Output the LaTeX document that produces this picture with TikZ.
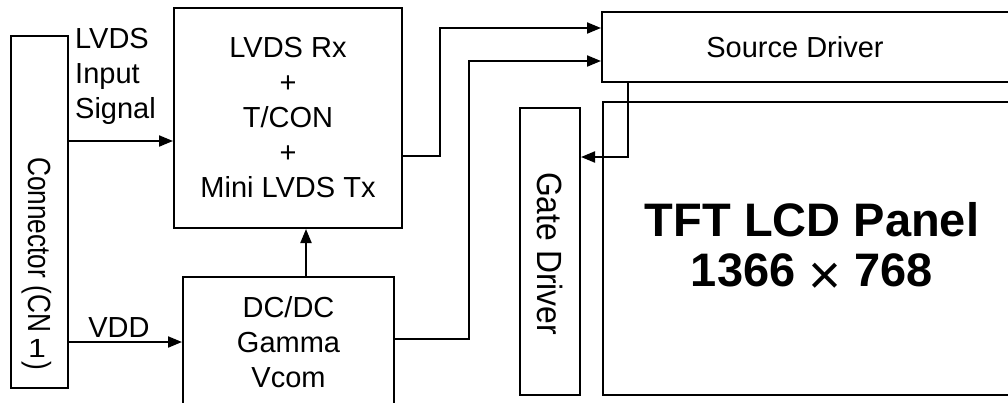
\documentclass[tikz,border=0pt]{standalone}
\usepackage{fontspec}
\setmainfont{Liberation Sans}
\usetikzlibrary{arrows.meta}
\begin{document}
\begin{tikzpicture}[x=1pt,y=-1pt,
  box/.style={draw, line width=2pt, rectangle, inner sep=0pt},
  lbl/.style={font=\fontsize{29}{35}\selectfont, inner sep=0pt, align=center},
  conn/.style={line width=2pt, -{Triangle[length=14pt,width=11pt]}},
]
\useasboundingbox (0,0) rectangle (1008,402);
\clip (0,0) rectangle (1008,402);

% boxes
\node[box, minimum width=57pt, minimum height=352pt] (cn) at (39.5,212) {};
\node[box, lbl, minimum width=228pt, minimum height=220pt] (lvds) at (288,118)
  {LVDS Rx\\+\\T/CON\\+\\Mini LVDS Tx};
\node[box, lbl, minimum width=211pt, minimum height=130pt] (dc) at (288.5,342)
  {DC/DC\\Gamma\\Vcom};
\node[box, minimum width=428pt, minimum height=70pt] (src) at (816,47) {};
\node[box, minimum width=60pt, minimum height=287pt] (gate) at (550,251.5) {};
\node[box, minimum width=427pt, minimum height=293pt] (panel) at (816.5,248.5) {};

% texts
\node[lbl, anchor=base] (srctext) at (795,57) {Source Driver};
\node[inner sep=0pt, align=center, font=\fontsize{47}{50}\selectfont\bfseries] (paneltext) at (812,248)
  {TFT LCD Panel\\1366 \raisebox{-8pt}{\scalebox{1.2}{\mdseries ×}} 768};
\node[rotate=-90, anchor=base west, inner sep=0pt] (cntext) at (28,157)
  {\scalebox{0.82}[1]{\fontsize{32}{32}\selectfont Connector (CN \rotatebox{90}{1}\,)}};
\node[rotate=-90, anchor=base west, inner sep=0pt] (gatetext) at (537,172)
  {\scalebox{0.91}[1]{\fontsize{35}{35}\selectfont Gate Driver}};
\node[lbl, align=left, anchor=north west] (lvdsin) at (75,28) {LVDS\\Input\\Signal};
\node[lbl, anchor=base] (vdd) at (119,337) {VDD};

% helper coordinates
\coordinate (a1) at (0,141);
\coordinate (a2) at (0,342);
\coordinate (a3) at (306,0);
\coordinate (c4) at (440,156);
\coordinate (c5) at (0,28);
\coordinate (c6) at (469,339);
\coordinate (c7) at (0,61);
\coordinate (c8) at (628,0);
\coordinate (c9) at (0,157);

% connectors
\draw[conn] (cn.east |- a1) -- (lvds.west |- a1);
\draw[conn] (cn.east |- a2) -- (dc.west |- a2);
\draw[conn] (dc.north -| a3) -- (lvds.south -| a3);
\draw[conn] (lvds.east |- c4) -- (c4) |- (src.west |- c5);
\draw[conn] (dc.east |- c6) -- (c6) |- (src.west |- c7);
\draw[conn] (src.south -| c8) |- (gate.east |- c9);
\end{tikzpicture}
\end{document}
